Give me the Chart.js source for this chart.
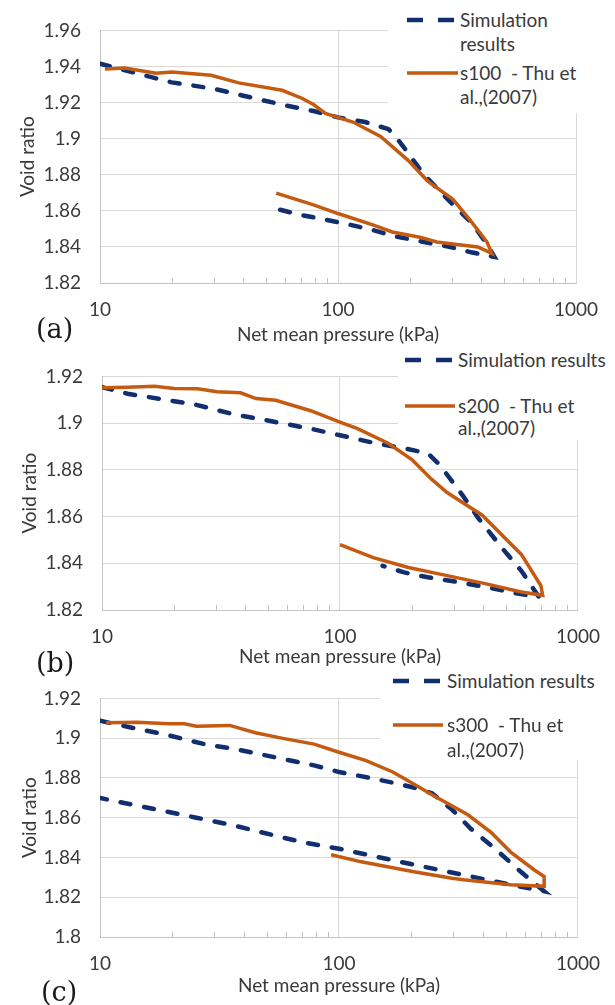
<!DOCTYPE html>
<html lang="en">
<head>
<meta charset="UTF-8">
<title>Void ratio vs net mean pressure</title>
<style>
  body { margin: 0; background: #fff; font-family: Lato, sans-serif; }
  .page { position: relative; width: 615px; height: 1005px; overflow: hidden; }
  canvas { position: absolute; left: 0; }
  .legend { position: absolute; background: #fff; color: #3a3a3a; font-size: 19px; }
  .legend .txt { position: absolute; white-space: pre; line-height: 20px; }
  .legend svg { position: absolute; left: 0; top: 0; overflow: visible; }
  .tag { position: absolute; font-family: "DejaVu Serif", serif; font-size: 27px; color: #1a1a1a; line-height: 30px; }
</style>
<script src="https://cdn.jsdelivr.net/npm/chart.js"></script>
</head>
<body>
<div class="page" id="page"></div>

<script>
// axis ticks
const xTicks = [10, 100, 1000];
const xMinor = [20, 30, 40, 50, 60, 70, 80, 90, 200, 300, 400, 500, 600, 700, 800, 900];
const yTicksA = [1.82, 1.84, 1.86, 1.88, 1.9, 1.92, 1.94, 1.96];
const yTicksB = [1.82, 1.84, 1.86, 1.88, 1.9, 1.92];
const yTicksC = [1.8, 1.82, 1.84, 1.86, 1.88, 1.9, 1.92];

// (a) s100 - simulation, loading then unloading
const simA_p = [10, 20, 30, 40, 58, 79, 100, 130, 163, 183, 205, 230, 300, 363, 423, 454,
                363, 300, 224, 172, 137, 107, 84, 68, 53];
const simA_e = [1.9415, 1.9312, 1.9277, 1.9238, 1.9189, 1.9153, 1.9118, 1.9092, 1.9053, 1.8977, 1.8889, 1.880, 1.8642, 1.8536, 1.8415, 1.8345,
                1.8370, 1.8398, 1.8430, 1.8460, 1.8497, 1.8529, 1.8557, 1.8580, 1.8617];
// (a) s100 - Thu et al. (2007)
const expA_p = [10.5, 12.7, 17.2, 20, 29.3, 38.3, 58.2, 70.5, 78.9, 88.5, 100, 115.6, 151, 197, 238, 304, 359, 423, 443,
                387, 304, 260, 221, 169, 140, 100, 78.9, 55];
const expA_e = [1.9386, 1.9392, 1.9362, 1.9369, 1.9351, 1.9309, 1.9268, 1.9224, 1.9189, 1.9140, 1.9118, 1.9092, 1.9012, 1.8880, 1.8765, 1.8664, 1.8548, 1.8427, 1.8364,
                1.8400, 1.8416, 1.8427, 1.8454, 1.8483, 1.8522, 1.8585, 1.8633, 1.8698];

// (b) s200 - simulation
const simB_p = [10, 12.8, 17.9, 24.3, 35.4, 51.6, 75.3, 100, 138, 186, 234, 262, 328, 382, 479, 578, 685,
                557, 412, 316, 234, 186, 151];
const simB_e = [1.9154, 1.9126, 1.9102, 1.9081, 1.9039, 1.9008, 1.8976, 1.8948, 1.8916, 1.8892, 1.8871, 1.8822, 1.8690, 1.8592, 1.8466, 1.8368, 1.8256,
                1.8270, 1.8298, 1.8319, 1.8340, 1.8361, 1.8389];
// (b) s200 - Thu et al. (2007)
const expB_p = [10, 12.8, 16.6, 20.1, 25.2, 30.5, 38.2, 44.4, 53.7, 75.3, 100, 118.5, 160, 201, 243, 282, 396, 578, 698, 711,
                578, 412, 282, 194, 138, 100];
const expB_e = [1.9151, 1.9154, 1.9158, 1.9148, 1.9147, 1.9134, 1.9130, 1.9105, 1.9098, 1.9053, 1.9004, 1.8976, 1.8913, 1.8843, 1.8759, 1.8703, 1.8606, 1.8438, 1.8305, 1.8263,
                1.8277, 1.8312, 1.8347, 1.8382, 1.8424, 1.8480];

// (c) s300 - simulation
const simC_p = [10, 13.3, 18.7, 27.3, 36.9, 53.9, 78.7, 100, 139, 168, 205, 245, 297, 358, 450, 565, 722,
                523, 358, 245, 168, 100, 70.3, 53.9, 36.9, 25.3, 17.3, 10];
const simC_e = [1.9088, 1.9055, 1.9019, 1.8970, 1.8945, 1.8904, 1.8863, 1.8830, 1.8797, 1.8776, 1.8752, 1.8723, 1.8641, 1.8542, 1.8444, 1.8337, 1.8230,
                1.8263, 1.8304, 1.8345, 1.8386, 1.8444, 1.8477, 1.8510, 1.8559, 1.8600, 1.8641, 1.8699];
// (c) s300 - Thu et al. (2007)
const expC_p = [10.6, 14.3, 19.4, 22.6, 25.3, 34.9, 44.7, 58.2, 78.7, 100, 129, 168, 203, 245, 345, 433, 523, 657, 722, 722,
                523, 332, 297, 203, 124, 92.7];
const expC_e = [1.9077, 1.9080, 1.9072, 1.9072, 1.9060, 1.9064, 1.9027, 1.8999, 1.8970, 1.8929, 1.8888, 1.8830, 1.8773, 1.8715, 1.8616, 1.8526, 1.8427, 1.8337, 1.8304, 1.8255,
                1.8263, 1.8288, 1.8296, 1.8329, 1.8378, 1.8414];

const SIM_COLOR = '#112f6e';
const EXP_COLOR = '#c55a11';
const TEXT_COLOR = '#3a3a3a';
const FONT = { family: 'Lato', size: 19 };

// layout of the three panels (pixel positions in the page)
const panels = [
    { tag: '(a)', tagX: 36, tagY: 314, top: 0, height: 346, plotTop: 18.5, plotBottom: 283, left: 100, right: 576,
      yMin: 1.82, yMax: 1.96, yTicks: yTicksA, xTitlePad: 0, yTitlePad: 16,
      sim: [simA_p, simA_e], exp: [expA_p, expA_e],
      legend: { x: 388, y: 0, w: 227, h: 113, sx1: 407, sx2: 458, tx: 460,
                simY: [20], simText: ['Simulation', 'results'], expY: 73,
                expText: ['s100  - Thu et', 'al.,(2007)'], lineGap: 24 } },
    { tag: '(b)', tagX: 36, tagY: 648, top: 346, height: 322, plotTop: 372, plotBottom: 610, left: 102, right: 581,
      yMin: 1.82, yMax: 1.92, yTicks: yTicksB, xTitlePad: 0, yTitlePad: 18,
      sim: [simB_p, simB_e], exp: [expB_p, expB_e],
      legend: { x: 398, y: 346, w: 217, h: 94, sx1: 405, sx2: 455, tx: 458,
                simY: [360], simText: ['Simulation results'], expY: 406,
                expText: ['s200  - Thu et', 'al.,(2007)'], lineGap: 22 } },
    { tag: '(c)', tagX: 41, tagY: 977, top: 668, height: 337, plotTop: 693, plotBottom: 937, left: 100, right: 580,
      yMin: 1.8, yMax: 1.92, yTicks: yTicksC, xTitlePad: 8, yTitlePad: 18,
      sim: [simC_p, simC_e], exp: [expC_p, expC_e],
      legend: { x: 380, y: 668, w: 235, h: 92, sx1: 393, sx2: 443, tx: 447,
                simY: [681], simText: ['Simulation results'], expY: 725,
                expText: ['s300  - Thu et', 'al.,(2007)'], lineGap: 25 } }
];

// small inside tick marks on the log axis
const minorTicksPlugin = {
    id: 'minorTicks',
    beforeDatasetsDraw(chart) {
        const xs = chart.scales.x, ctx = chart.ctx, y0 = chart.chartArea.bottom;
        ctx.save();
        ctx.strokeStyle = '#bfbfbf';
        ctx.lineWidth = 1;
        xMinor.forEach(v => {
            const px = Math.round(xs.getPixelForValue(v)) + 0.5;
            ctx.beginPath();
            ctx.moveTo(px, y0);
            ctx.lineTo(px, y0 - 5);
            ctx.stroke();
        });
        ctx.restore();
    }
};

function toPoints(p, e) {
    return p.map((v, i) => ({ x: v, y: e[i] }));
}

const page = document.getElementById('page');

panels.forEach(pn => {
    const canvas = document.createElement('canvas');
    canvas.width = 615;
    canvas.height = pn.height;
    canvas.style.top = pn.top + 'px';
    page.appendChild(canvas);

    new Chart(canvas.getContext('2d'), {
        type: 'scatter',
        data: {
            datasets: [
                {
                    label: 'Simulation results',
                    data: toPoints(pn.sim[0], pn.sim[1]),
                    showLine: true,
                    borderColor: SIM_COLOR,
                    borderWidth: 4.5,
                    borderDash: [10, 14],
                    borderCapStyle: 'round',
                    pointRadius: 0,
                    tension: 0,
                    order: 2
                },
                {
                    label: pn.legend.expText.join(' '),
                    data: toPoints(pn.exp[0], pn.exp[1]),
                    showLine: true,
                    borderColor: EXP_COLOR,
                    borderWidth: 3.5,
                    pointRadius: 0,
                    tension: 0,
                    order: 1
                }
            ]
        },
        options: {
            responsive: false,
            animation: false,
            devicePixelRatio: 1,
            layout: {
                padding: { left: 0, top: pn.plotTop - pn.top, right: 615 - pn.right, bottom: 0 }
            },
            plugins: { legend: { display: false }, tooltip: { enabled: false } },
            scales: {
                x: {
                    type: 'logarithmic',
                    min: 10,
                    max: 1000,
                    afterBuildTicks: s => { s.ticks = xTicks.map(v => ({ value: v, major: true })); },
                    afterFit: s => { s.height = pn.top + pn.height - pn.plotBottom; },
                    grid: { color: '#d9d9d9', drawTicks: false },
                    border: { color: '#c4c4c4' },
                    ticks: {
                        color: TEXT_COLOR, font: FONT, padding: 15, maxRotation: 0, autoSkip: false,
                        callback: v => String(v)
                    },
                    title: {
                        display: true, text: 'Net mean pressure (kPa)', color: TEXT_COLOR, font: FONT,
                        padding: { top: 0, bottom: pn.xTitlePad }
                    }
                },
                y: {
                    min: pn.yMin,
                    max: pn.yMax,
                    afterBuildTicks: s => { s.ticks = pn.yTicks.map(v => ({ value: v })); },
                    afterFit: s => { s.width = pn.left; },
                    grid: { color: '#d9d9d9', drawTicks: false },
                    border: { color: '#c4c4c4' },
                    ticks: { color: TEXT_COLOR, font: FONT, padding: 19, callback: v => String(v) },
                    title: {
                        display: true, text: 'Void ratio', color: TEXT_COLOR, font: FONT,
                        padding: { top: pn.yTitlePad, bottom: 0 }
                    }
                }
            }
        },
        plugins: [minorTicksPlugin]
    });

    // legend box (white, sits over the grid like the spreadsheet legend)
    const lg = pn.legend;
    const box = document.createElement('div');
    box.className = 'legend';
    box.style.left = lg.x + 'px';
    box.style.top = lg.y + 'px';
    box.style.width = lg.w + 'px';
    box.style.height = lg.h + 'px';
    const sy = lg.simY[0] - lg.y, ey = lg.expY - lg.y;
    const x1 = lg.sx1 - lg.x, x2 = lg.sx2 - lg.x;
    box.innerHTML =
        '<svg width="' + lg.w + '" height="' + lg.h + '">' +
        '<line x1="' + x1 + '" y1="' + sy + '" x2="' + x2 + '" y2="' + sy + '" stroke="' + SIM_COLOR +
        '" stroke-width="4.5" stroke-dasharray="16 15"/>' +
        '<line x1="' + x1 + '" y1="' + ey + '" x2="' + x2 + '" y2="' + ey + '" stroke="' + EXP_COLOR +
        '" stroke-width="3.5"/></svg>';
    lg.simText.forEach((t, i) => {
        const d = document.createElement('div');
        d.className = 'txt';
        d.textContent = t;
        d.style.left = (lg.tx - lg.x) + 'px';
        d.style.top = (sy + i * lg.lineGap - 10) + 'px';
        box.appendChild(d);
    });
    lg.expText.forEach((t, i) => {
        const d = document.createElement('div');
        d.className = 'txt';
        d.textContent = t;
        d.style.left = (lg.tx - lg.x) + 'px';
        d.style.top = (ey + i * lg.lineGap - 10) + 'px';
        box.appendChild(d);
    });
    page.appendChild(box);

    const tag = document.createElement('div');
    tag.className = 'tag';
    tag.textContent = pn.tag;
    tag.style.left = pn.tagX + 'px';
    tag.style.top = pn.tagY + 'px';
    page.appendChild(tag);
});
</script>
</body>
</html>
